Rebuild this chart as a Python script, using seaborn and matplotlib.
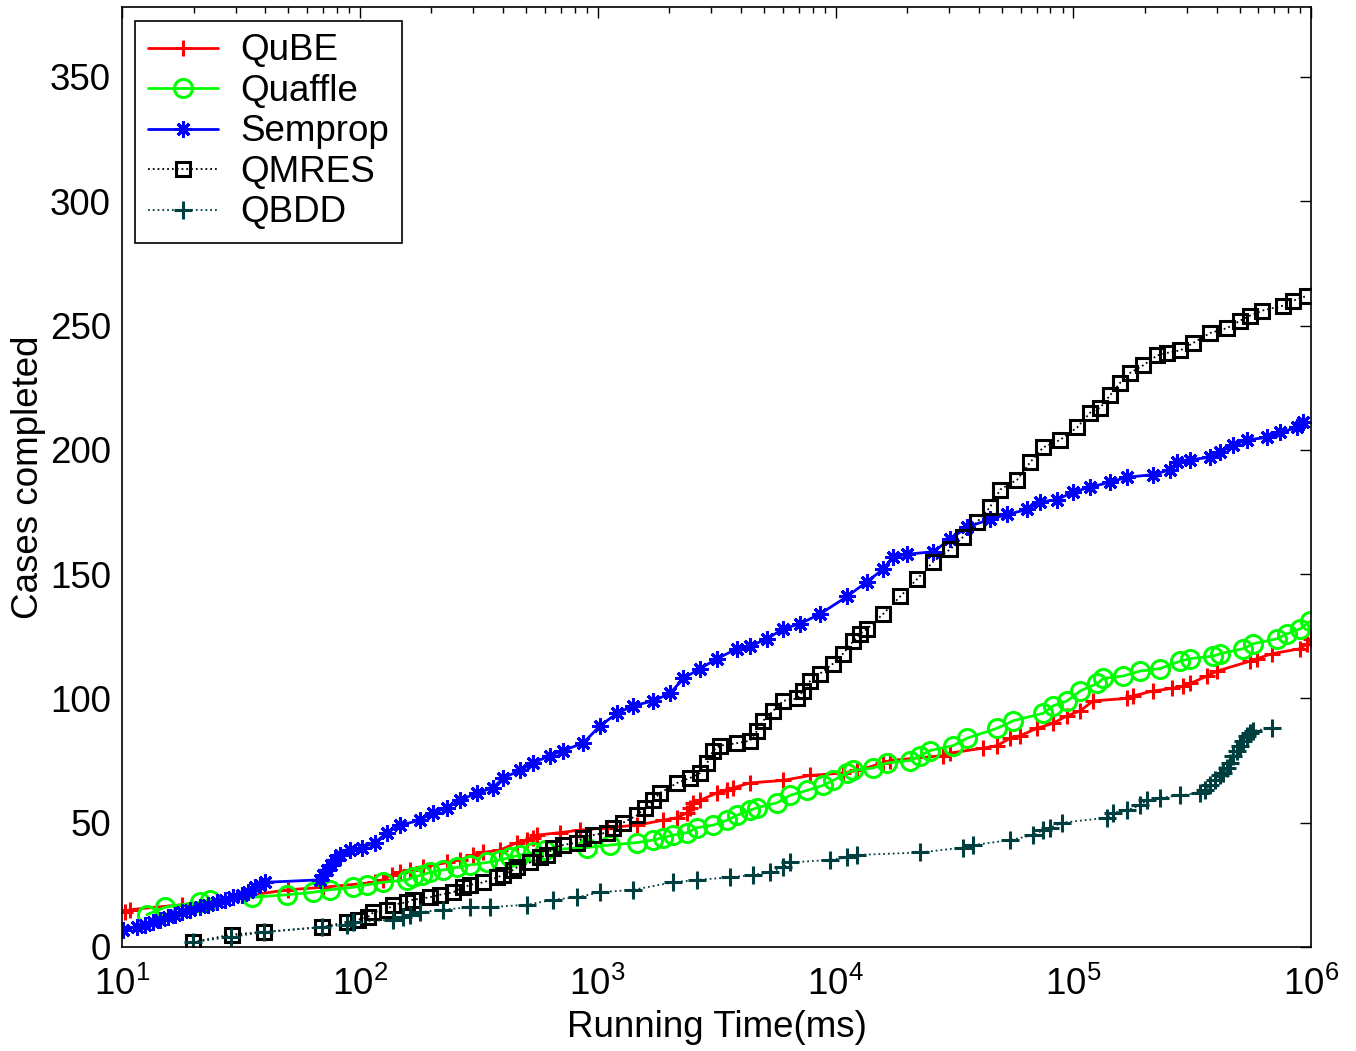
import numpy as np
import pandas as pd
import matplotlib
matplotlib.use("Agg")
import matplotlib.pyplot as plt
import seaborn as sns
from matplotlib.ticker import LogLocator, MultipleLocator, NullFormatter

# Running time (ms) at which each solver had completed n cases
qube_t = [10.3, 10.8, 17.9, 49.9, 70.0, 116, 125, 137, 148, 163, 184, 233, 264, 299, 330, 389,
          458, 505, 535, 556, 695, 843, 1095, 1465, 1884, 2158, 2377, 2446, 2519, 2696, 3178,
          3501, 3710, 4374, 6021, 7818, 10760, 12330, 15860, 16970, 28350, 30340, 41760, 47830,
          54230, 59740, 70420, 82220, 94170, 106800, 121100, 168400, 178400, 216600, 260300,
          289600, 309900, 365300, 402500, 553900, 592900, 685600, 899000, 961800, 995000]
qube_n = [14, 15, 17, 23, 24, 26, 27, 29, 30, 31, 32, 34, 35, 37, 38, 39, 42, 43, 44, 45, 46, 47,
          48, 49, 51, 52, 54, 56, 58, 59, 62, 63, 64, 66, 67, 69, 70, 71, 74, 75, 77, 78, 80, 81,
          84, 85, 88, 90, 93, 95, 99, 100, 101, 103, 104, 105, 106, 109, 111, 115, 116, 118, 120,
          122, 124]

quaffle_t = [12.7, 15.2, 21.3, 23.4, 35.2, 49.4, 63.6, 74.9, 93.6, 107, 125, 158, 167, 183, 197,
             224, 256, 291, 343, 389, 428, 472, 535, 601, 903, 1128, 1465, 1710, 1884, 2076, 2377,
             2618, 3057, 3501, 3857, 4374, 4681, 5681, 6445, 7597, 8868, 9768, 11190, 11860,
             14390, 16480, 20590, 22680, 24990, 31230, 35770, 47830, 55830, 74650, 82220, 94170,
             106800, 126000, 133500, 162000, 190900, 231700, 281300, 309900, 387100, 414300,
             517600, 570300, 719500, 792800, 899000, 990000]
quaffle_n = [13, 16, 18, 19, 20, 21, 22, 23, 24, 25, 26, 27, 28, 29, 30, 31, 32, 33, 34, 35, 36,
             37, 38, 39, 40, 41, 42, 43, 44, 45, 46, 48, 49, 51, 53, 55, 56, 58, 61, 63, 65, 67,
             70, 71, 72, 74, 75, 77, 79, 81, 84, 88, 91, 94, 97, 99, 103, 106, 108, 109, 111, 112,
             115, 116, 117, 118, 120, 122, 124, 126, 128, 131]

semprop_t = [10.1, 11.6, 12.5, 13.5, 14.4, 15.6, 16.7, 17.9, 19.3, 21.3, 23.0, 25.1, 27.1, 29.3,
             32.0, 33.9, 36.3, 38.0, 39.9, 68.0, 70.0, 72.8, 75.6, 78.7, 82.6, 90.9, 102, 116, 130,
             148, 179, 203, 233, 264, 311, 363, 400, 472, 535, 631, 715, 868, 1024, 1206, 1409,
             1710, 2016, 2286, 2696, 3178, 3857, 4374, 5158, 6021, 7098, 8614, 11190, 13580,
             15860, 17470, 20000, 25730, 30340, 35770, 44680, 52680, 63920, 72510, 85510, 99800,
             117700, 142800, 168400, 216600, 255300, 273300, 309900, 376100, 414300, 469900,
             538000, 653000, 740600, 873200, 925200]
semprop_n = [7, 8, 9, 10, 11, 12, 13, 14, 15, 16, 17, 18, 19, 20, 21, 22, 24, 25, 26, 27, 29, 31,
             33, 35, 37, 39, 40, 42, 46, 49, 51, 54, 56, 59, 62, 64, 68, 71, 74, 77, 79, 82, 89,
             94, 97, 99, 102, 108, 112, 116, 120, 121, 124, 128, 130, 134, 141, 147, 152, 157,
             158, 159, 164, 169, 172, 174, 176, 179, 180, 183, 185, 187, 189, 190, 192, 195, 196,
             197, 199, 202, 204, 205, 207, 209, 211]

qmres_t = [19.9, 29.0, 39.5, 69.3, 88.3, 98.3, 108, 114, 130, 138, 158, 167, 197, 217, 247, 272,
           291, 330, 378, 400, 441, 458, 520, 573, 613, 649, 715, 819, 868, 956, 1095, 1161, 1279,
           1465, 1582, 1710, 1830, 2158, 2446, 2696, 2884, 3057, 3271, 3857, 4374, 4681, 4961,
           5466, 6021, 6896, 7306, 7818, 8614, 9768, 10760, 11860, 12690, 13580, 15860, 18700,
           22030, 25730, 30340, 34410, 39400, 44680, 49220, 58040, 65820, 74650, 88030, 103700,
           117700, 129700, 142800, 157300, 173400, 196600, 225100, 248000, 281300, 319000,
           376100, 443500, 502800, 553900, 622300, 762400, 840300, 961800]
qmres_n = [2, 5, 6, 8, 10, 11, 12, 14, 15, 17, 18, 19, 20, 21, 22, 24, 25, 26, 28, 29, 31, 32, 34,
           36, 37, 40, 41, 42, 44, 45, 46, 48, 50, 53, 56, 59, 62, 66, 68, 70, 74, 79, 81, 82, 83,
           87, 91, 95, 99, 100, 103, 107, 110, 114, 118, 123, 126, 128, 134, 141, 148, 155, 160,
           165, 171, 177, 184, 188, 195, 201, 204, 209, 215, 217, 222, 227, 231, 234, 238, 239,
           240, 243, 247, 249, 252, 254, 256, 258, 260, 262]

qbdd_t = [19.9, 28.7, 39.5, 69.3, 88.3, 93.6, 138, 152, 163, 179, 224, 291, 353, 505, 649, 819,
          1024, 1409, 2076, 2618, 3605, 4502, 5309, 6021, 6445, 9490, 11190, 12330, 22680, 34410,
          37900, 54230, 67770, 74650, 79890, 89740, 138700, 147000, 168400, 190900, 204400,
          231700, 281300, 341500, 358400, 376100, 394900, 414300, 426500, 443500, 456300, 469900,
          488400, 502800, 517600, 538000, 553900, 570300, 685600]
qbdd_n = [2, 4, 6, 8, 9, 10, 11, 12, 13, 14, 15, 16, 16, 17, 19, 20, 22, 23, 26, 27, 28, 29, 30,
          32, 34, 35, 36, 37, 38, 40, 41, 43, 45, 47, 48, 50, 52, 54, 55, 57, 59, 60, 61, 62, 63,
          65, 67, 69, 70, 72, 74, 77, 79, 81, 83, 85, 86, 87, 88]

sns.set_theme(style="white")
plt.rcParams['font.family'] = ['Liberation Sans', 'DejaVu Sans']
plt.rcParams['mathtext.fontset'] = 'custom'
plt.rcParams['mathtext.rm'] = 'Liberation Sans'
plt.rcParams['axes.edgecolor'] = 'black'
plt.rcParams['axes.linewidth'] = 1.2
for key in ['text.color', 'axes.labelcolor', 'xtick.color', 'ytick.color']:
    plt.rcParams[key] = 'black'

fig = plt.figure(figsize=(13.56, 10.51), dpi=100)
ax = fig.add_axes([0.090, 0.099, 0.877, 0.894])

# name, times, counts, colour, marker, linestyle, marker size, line width
series = [
    ("QuBE", qube_t, qube_n, "#ff0000", "+", "-", 12, 2.0),
    ("Quaffle", quaffle_t, quaffle_n, "#00ff00", "o", "-", 13, 2.0),
    ("Semprop", semprop_t, semprop_n, "#0000ff", (8, 2, 0), "-", 11.5, 2.0),
    ("QMRES", qmres_t, qmres_n, "#000000", "s", ":", 10.5, 1.3),
    ("QBDD", qbdd_t, qbdd_n, "#003f3f", "+", ":", 12.5, 1.3),
]

for name, t, n, col, mk, ls, ms, lw in series:
    sns.lineplot(x=t, y=n, ax=ax, color=col, marker=mk, linestyle=ls, linewidth=lw,
                 markersize=ms, markeredgewidth=2.2, markerfacecolor="none",
                 markeredgecolor=col, estimator=None, errorbar=None, label=name)

ax.set_xscale("log")
ax.set_xlim(10, 1e6)
ax.set_ylim(0, 378)
ax.yaxis.set_major_locator(MultipleLocator(50))
ax.xaxis.set_major_locator(LogLocator(base=10, numticks=10))
ax.xaxis.set_minor_locator(LogLocator(base=10, subs=np.arange(2, 10), numticks=10))
ax.xaxis.set_minor_formatter(NullFormatter())

ax.tick_params(which="both", direction="in", top=True, right=True, labelsize=26.5,
               color="black", labelcolor="black")
ax.tick_params(which="major", length=8, width=1.0)
ax.tick_params(axis="x", which="major", pad=14)
ax.tick_params(axis="y", which="major", pad=8)
ax.tick_params(which="minor", length=4.5, width=1.0)

ax.set_xlabel("Running Time(ms)", fontsize=26.5, labelpad=5)
ax.set_ylabel("Cases completed", fontsize=26.5, labelpad=3)

for sp in ax.spines.values():
    sp.set_visible(True)
    sp.set_color("black")

leg = ax.legend(loc="upper left", bbox_to_anchor=(0.011, 0.986), borderaxespad=0,
                fontsize=26.5, frameon=True, fancybox=False, edgecolor="black",
                handlelength=1.9, handletextpad=0.6, labelspacing=0.15, borderpad=0.35,
                numpoints=1)
leg.get_frame().set_linewidth(1.2)
leg.get_frame().set_alpha(1)

fig.savefig("out.png", dpi=100, facecolor="white")
